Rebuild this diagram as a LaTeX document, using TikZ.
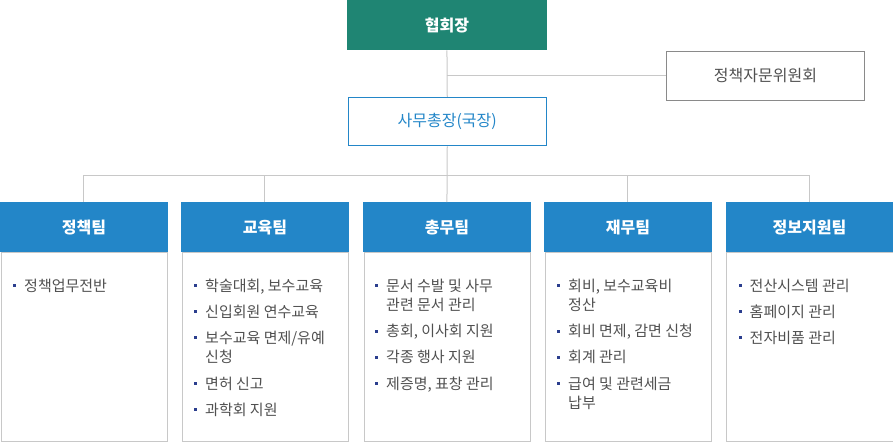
\documentclass[tikz,border=0pt]{standalone}
\usepackage{fontspec}
\setmainfont{Noto Sans CJK KR}
\usetikzlibrary{calc}
\definecolor{presgreen}{HTML}{1F8573}
\definecolor{teamblue}{HTML}{2386C8}
\definecolor{linegray}{HTML}{C8C8C8}
\definecolor{advgray}{HTML}{8A8A8A}
\definecolor{txtgray}{HTML}{505050}
\definecolor{bulblue}{HTML}{2B3E8E}
\newcommand\tmitem[3]{%
  \node[itembox] (#1) at (#2) {#3};
  \node[bulsq] at ($(#1.north west)+(-9.5,8.3)$) {};
}
\begin{document}
\begin{tikzpicture}[x=1pt,y=-1pt,
  topbox/.style={anchor=north west, inner sep=0pt, minimum width=199pt, minimum height=49pt,
    font=\fontsize{16}{19}\selectfont},
  conn/.style={draw=linegray, line width=1pt},
  teamhead/.style={anchor=north west, inner sep=0pt, fill=teamblue, text=white,
    minimum width=167.5pt, minimum height=50pt, font=\fontsize{16}{19}\selectfont\bfseries},
  teambody/.style={anchor=north west, inner sep=0pt, draw=linegray, line width=1pt,
    minimum width=166.5pt, minimum height=189.5pt},
  itembox/.style={anchor=north west, inner sep=0pt, align=left, text=txtgray,
    font=\fontsize{15}{19.5}\selectfont},
  bulsq/.style={fill=bulblue, inner sep=0pt, minimum size=3pt}
]
\useasboundingbox (0,0) rectangle (893,442);

% top
\node[topbox, fill=presgreen, text=white, font=\fontsize{16}{19}\selectfont\bfseries,
  minimum width=199.5pt, minimum height=50pt] (pres) at (347,0) {협회장};
\node[topbox, draw=advgray, line width=1pt, text=txtgray, minimum width=198pt] (adv) at (666,50.5) {정책자문위원회};
\node[topbox, draw=teamblue, line width=1pt, text=teamblue, minimum width=198.5pt, minimum height=48.5pt] (sec) at (347.5,96.8) {사무총장(국장)};

% team boxes
\foreach \i/\xx/\name in {1/0/정책팀, 2/181/교육팀, 3/363/총무팀, 4/544/재무팀, 5/725.5/정보지원팀}{
  \node[teambody] (b\i) at (\xx+0.5,251.5) {};
  \node[teamhead] (h\i) at (\xx,202) {\name};
}

% connectors
\draw[conn] (pres.south) -- (sec.north);
\draw[conn] (pres.south |- adv.west) -- (adv.west);
\coordinate (bus) at ($(sec.south)+(0,29.3)$);
\draw[conn] (sec.south) -- (h3.north);
\foreach \i in {1,2,4,5}{
  \draw[conn] (h\i.north) |- (bus);
}

% items: 정책팀
\tmitem{a1}{$(h1.south west)+(24,25)$}{\strut 정책업무전반}
% 교육팀
\tmitem{c1}{$(h2.south west)+(24,25)$}{\strut 학술대회, 보수교육}
\tmitem{c2}{$(c1.south west)+(0,6.2)$}{\strut 신입회원 연수교육}
\tmitem{c3}{$(c2.south west)+(0,6.2)$}{\strut 보수교육 면제/유예\\\strut 신청}
\tmitem{c4}{$(c3.south west)+(0,6.2)$}{\strut 면허 신고}
\tmitem{c5}{$(c4.south west)+(0,6.2)$}{\strut 과학회 지원}
% 총무팀
\tmitem{g1}{$(h3.south west)+(23,25)$}{\strut 문서 수발 및 사무\\\strut 관련 문서 관리}
\tmitem{g2}{$(g1.south west)+(0,6.2)$}{\strut 총회, 이사회 지원}
\tmitem{g3}{$(g2.south west)+(0,6.2)$}{\strut 각종 행사 지원}
\tmitem{g4}{$(g3.south west)+(0,6.2)$}{\strut 제증명, 표창 관리}
% 재무팀
\tmitem{f1}{$(h4.south west)+(24,25)$}{\strut 회비, 보수교육비\\\strut 정산}
\tmitem{f2}{$(f1.south west)+(0,6.2)$}{\strut 회비 면제, 감면 신청}
\tmitem{f3}{$(f2.south west)+(0,6.2)$}{\strut 회계 관리}
\tmitem{f4}{$(f3.south west)+(0,6.2)$}{\strut 급여 및 관련세금\\\strut 납부}
% 정보지원팀
\tmitem{e1}{$(h5.south west)+(24,25)$}{\strut 전산시스템 관리}
\tmitem{e2}{$(e1.south west)+(0,6.2)$}{\strut 홈페이지 관리}
\tmitem{e3}{$(e2.south west)+(0,6.2)$}{\strut 전자비품 관리}
\end{tikzpicture}
\end{document}
